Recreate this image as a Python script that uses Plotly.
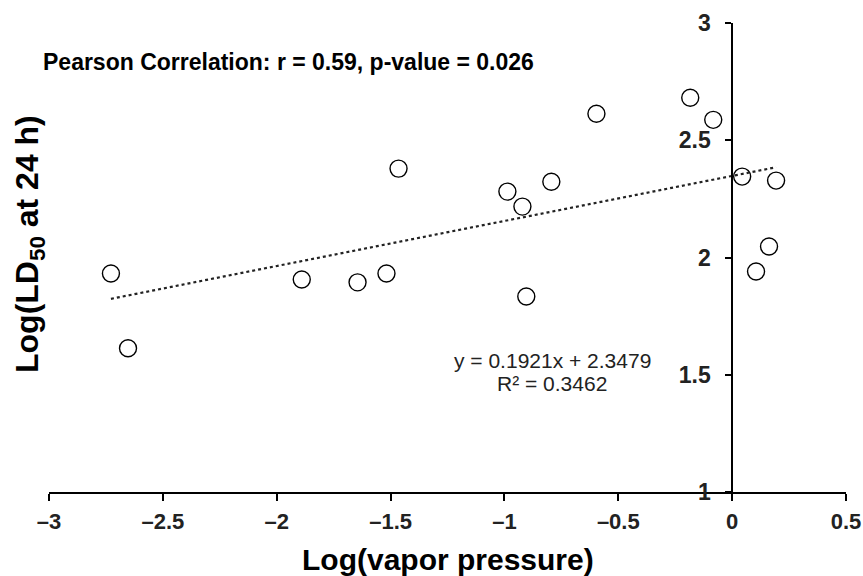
import plotly.graph_objects as go

# Data
log_vp = [-2.728, -2.653, -1.890, -1.645, -1.518, -1.465, -0.987, -0.921, -0.904,
          -0.794, -0.596, -0.184, -0.083, 0.044, 0.193, 0.162, 0.105]
log_ld50 = [1.932, 1.613, 1.906, 1.894, 1.932, 2.379, 2.281, 2.217, 1.834,
            2.323, 2.613, 2.681, 2.587, 2.345, 2.328, 2.047, 1.940]

slope = 0.1921
intercept = 2.3479
trend_x = [min(log_vp), max(log_vp)]
trend_y = [slope * v + intercept for v in trend_x]

x_ticks = [-3, -2.5, -2, -1.5, -1, -0.5, 0, 0.5]
y_ticks = [1, 1.5, 2, 2.5, 3]

FONT = "Liberation Sans, Arial, sans-serif"
W, H = 863, 576
ML, MR, MT, MB = 49, 17, 23, 84
PW, PH = W - ML - MR, H - MT - MB


def px_x(p):
    return (p - ML) / PW


def px_y(p):
    return 1 - (p - MT) / PH


fig = go.Figure()
fig.add_trace(go.Scatter(
    x=log_vp, y=log_ld50, mode="markers",
    marker=dict(symbol="circle", size=17, color="white",
                line=dict(color="black", width=1.4)),
    showlegend=False, hoverinfo="x+y"))
fig.add_trace(go.Scatter(
    x=trend_x, y=trend_y, mode="lines",
    line=dict(color="#222222", width=2.2, dash="dot"),
    showlegend=False, hoverinfo="skip"))

xr = [-3, 0.5]
fig.update_layout(
    width=W, height=H,
    margin=dict(l=ML, r=MR, t=MT, b=MB, autoexpand=False),
    plot_bgcolor="white", paper_bgcolor="white",
    font=dict(family=FONT, color="black"),
    xaxis=dict(
        range=xr, tickvals=x_ticks,
        ticktext=["<b>" + f"{v:g}".replace("-", "\u2013") + "</b>" for v in x_ticks],
        showgrid=False, zeroline=False, showline=True, linecolor="black", linewidth=1.5,
        ticks="outside", ticklen=7, tickwidth=1.5, tickcolor="black",
        tickfont=dict(family=FONT, size=22, color="#222222"),
        ticklabelstandoff=2,
        automargin=False,
    ),
    yaxis=dict(
        range=[1, 3], tickvals=y_ticks, ticktext=[f"<b>{v:g}</b>" for v in y_ticks],
        anchor="free", position=(0 - xr[0]) / (xr[1] - xr[0]), side="left",
        showgrid=False, zeroline=False, showline=True, linecolor="black", linewidth=1.5,
        ticks="outside", ticklen=6, tickwidth=1.5, tickcolor="black",
        tickfont=dict(family=FONT, size=23, color="#222222"),
        ticklabelstandoff=10,
        automargin=False,
    ),
    annotations=[
        dict(text="<b>Log(vapor pressure)</b>", xref="paper", yref="paper",
             x=px_x(448), y=px_y(559), xanchor="center", yanchor="middle",
             showarrow=False, font=dict(family=FONT, size=30)),
        dict(text="<b>Log(LD<sub>50</sub> at 24 h)</b>", xref="paper", yref="paper",
             x=px_x(29), y=px_y(244), xanchor="center", yanchor="middle", textangle=-90,
             showarrow=False, font=dict(family=FONT, size=32)),
        dict(text="<b>Pearson Correlation: r = 0.59, p-value = 0.026</b>",
             xref="paper", yref="paper", x=px_x(41), y=px_y(62), xanchor="left",
             yanchor="middle", showarrow=False, font=dict(family=FONT, size=23)),
        dict(text="y = 0.1921x + 2.3479", xref="paper", yref="paper",
             x=px_x(552), y=px_y(360), xanchor="center", yanchor="middle",
             showarrow=False, font=dict(family=FONT, size=21, color="#222222")),
        dict(text="R\u00b2 = 0.3462", xref="paper", yref="paper",
             x=px_x(552), y=px_y(383), xanchor="center", yanchor="middle",
             showarrow=False, font=dict(family=FONT, size=21, color="#222222")),
    ],
)

fig.write_html("out.html")
